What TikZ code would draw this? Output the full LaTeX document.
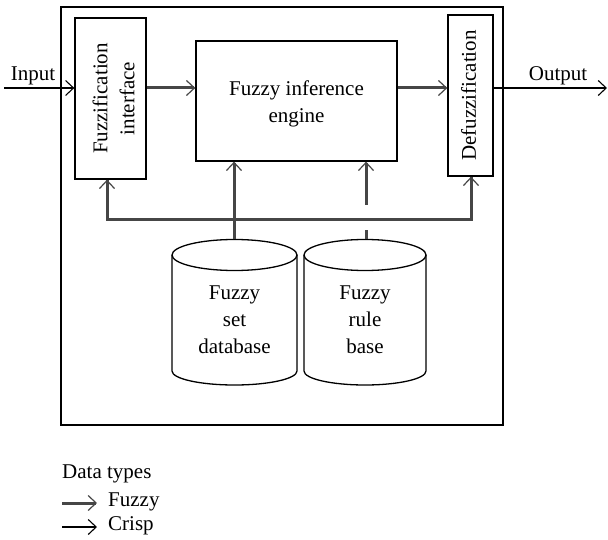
\documentclass[tikz,border=0pt]{standalone}
\usepackage{fontspec}
\setmainfont{Liberation Serif}
\usetikzlibrary{arrows.meta,shapes.geometric}
\definecolor{fz}{HTML}{464646}
\begin{document}
\begin{tikzpicture}[x=1pt,y=-1pt,
  txt/.style={font=\fontsize{21}{27}\selectfont, text=black, inner sep=0pt, align=center},
  boxs/.style={draw=black, line width=1.3pt},
  crisp/.style={draw=black, line width=1.1pt, -{Straight Barb[length=8pt,width=15pt,line width=1.1pt]}},
  fuzzy/.style={draw=fz, line width=3pt, -{Straight Barb[length=8pt,width=15pt,line width=1.2pt]}},
  fuzzyline/.style={draw=fz, line width=3pt},
  cyl/.style={draw=black, line width=1.3pt, fill=white}]
\useasboundingbox (0,0) rectangle (608,540);
% outer frame
\draw[line width=1.3pt] (61,7) rectangle (503,425);
% boxes
\node[boxs, minimum width=71pt, minimum height=161pt, inner sep=0pt] (fz) at (110.5,98.5) {};
\node[txt, rotate=90] at ([xshift=3pt]fz.center) {Fuzzification\\interface};
\node[boxs, minimum width=201pt, minimum height=120pt, inner sep=0pt] (eng) at (296.5,101) {};
\node[txt, anchor=north] at (296.5,81) {Fuzzy inference\\engine};
\node[boxs, minimum width=45pt, minimum height=161pt, inner sep=0pt] (dfz) at (470.5,95.5) {};
\node[txt, rotate=90] at ([xshift=-2pt]dfz.center) {Defuzzification};
% input/output
\coordinate (inL) at (4,88);
\coordinate (outR) at (607,88);
\draw[crisp] (inL) -- (fz.west |- inL);
\node[txt, anchor=base] at (33,81) {Input};
\draw[crisp] (dfz.east |- outR) -- (outR);
\node[txt, anchor=base] at (558,81) {Output};
% fuzzy arrows
\draw[fuzzy] (fz.east |- 0,88) -- (eng.west |- 0,88);
\draw[fuzzy] (eng.east |- 0,88) -- (dfz.west |- 0,88);
% cylinders
\coordinate (c1) at (234.5,255);
\coordinate (c2) at (365,255);
\path[cyl] (172,255) -- (172,371) arc[start angle=180,end angle=360,x radius=62.5pt,y radius=14pt] -- (297,255);
\draw[cyl] (c1) ellipse[x radius=62.5pt,y radius=15.5pt];
\path[cyl] (304,255) -- (304,371) arc[start angle=180,end angle=360,x radius=61pt,y radius=14pt] -- (426,255);
\draw[cyl] (c2) ellipse[x radius=61pt,y radius=15.5pt];
\node[txt, anchor=north] (db) at (234.5,286) {Fuzzy\\set\\database};
\node[txt, anchor=north] (rb) at (365,286) {Fuzzy\\rule\\base};
% bus
\coordinate (b1) at (107,220);
\coordinate (b2) at (471,220);
\coordinate (t1) at (234,239.5);
\coordinate (t2) at (366,239.5);
\coordinate (g1) at (366,230);
\coordinate (g2) at (366,205);
\draw[fuzzyline, line join=miter] (fz.south -| b1) -- (b1) -- (b2) -- (dfz.south -| b2);
\draw[fuzzy] (b1) -- (fz.south -| b1);
\draw[fuzzy] (b2) -- (dfz.south -| b2);
\draw[fuzzy] (t1) -- (eng.south -| t1);
\draw[fuzzyline] (t2) -- (g1);
\draw[fuzzy] (g2) -- (eng.south -| g2);
% legend
\node[txt, anchor=base west] at (62,478) {Data types};
\coordinate (l1a) at (62,503);
\coordinate (l1b) at (97,503);
\coordinate (l2a) at (62,527);
\coordinate (l2b) at (97,527);
\draw[fuzzy] (l1a) -- (l1b);
\node[txt, anchor=west] at (108,502) {Fuzzy};
\draw[crisp] (l2a) -- (l2b);
\node[txt, anchor=west] at (108,526) {Crisp};
\end{tikzpicture}
\end{document}
